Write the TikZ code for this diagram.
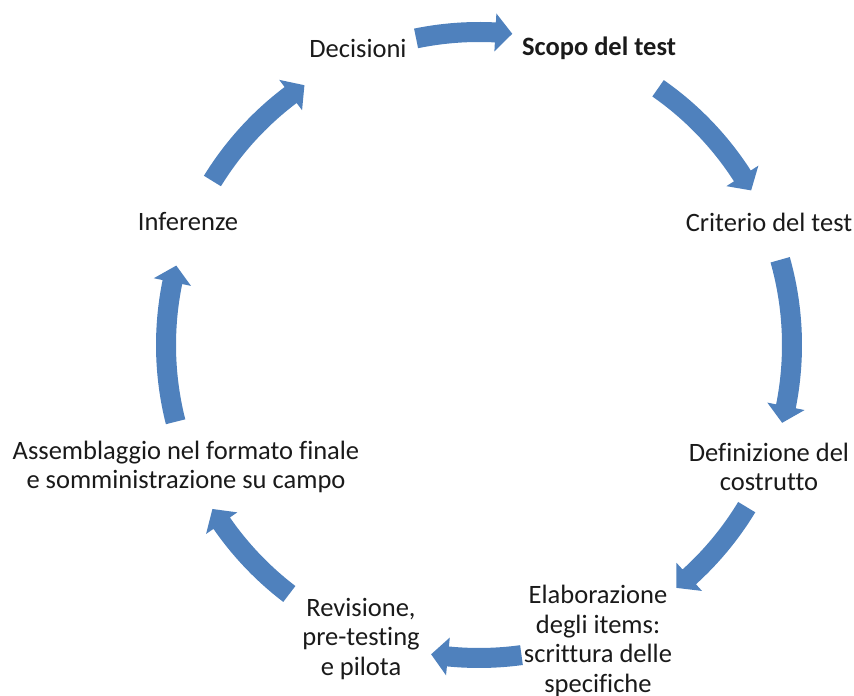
\documentclass[tikz,border=0pt]{standalone}
\usepackage{fontspec}
\setmainfont[Ligatures={NoCommon}]{Carlito}
\definecolor{arrowblue}{HTML}{4F81BD}
\definecolor{txt}{HTML}{1A1A1A}
\tikzset{
  lbl/.style={text=txt, align=center, inner sep=0pt, font=\fontsize{26.5}{29.5}\selectfont},
  blockarrow/.style={fill=arrowblue, draw=none}
}
% #1 start angle, #2 end angle (clockwise: #2 < #1)
\newcommand{\cyclearrow}[2]{%
  \pgfmathsetmacro{\hb}{#2+3.1}%
  \fill[blockarrow] (#1:323) arc[start angle=#1, end angle=\hb, radius=323]
    -- (\hb:332) -- (#2:313) -- (\hb:294) -- (\hb:303)
    arc[start angle=\hb, end angle=#1, radius=303] -- cycle;%
}
\begin{document}
\begin{tikzpicture}[x=1pt,y=1pt]
\useasboundingbox (0,0) rectangle (854,696);
\node[lbl] (dec) at (358,648) {Decisioni};
\node[lbl, font=\fontsize{26.5}{29.5}\selectfont\bfseries] (scopo) at (599,648) {Scopo del test};
\node[lbl] (crit) at (769,474) {Criterio del test};
\node[lbl] (def) at (769,229) {Definizione del\\costrutto};
\node[lbl] (elab) at (598,55) {Elaborazione\\degli items:\\scrittura delle\\specifiche};
\node[lbl] (rev) at (361,57) {Revisione,\\pre-testing\\e pilota};
\node[lbl] (ass) at (186,229) {Assemblaggio nel formato finale\\e somministrazione su campo};
\node[lbl] (inf) at (188,474) {Inferenze};
\begin{scope}[shift={(479,351)}]
\cyclearrow{101.6}{83.9}
\cyclearrow{55.1}{29.6}
\cyclearrow{15.8}{-14.4}
\cyclearrow{-31.2}{-50.9}
\cyclearrow{-82.2}{-98.8}
\cyclearrow{-127.3}{-148.4}
\cyclearrow{194.2}{165.3}
\cyclearrow{148.4}{123.9}
\end{scope}
\end{tikzpicture}
\end{document}
